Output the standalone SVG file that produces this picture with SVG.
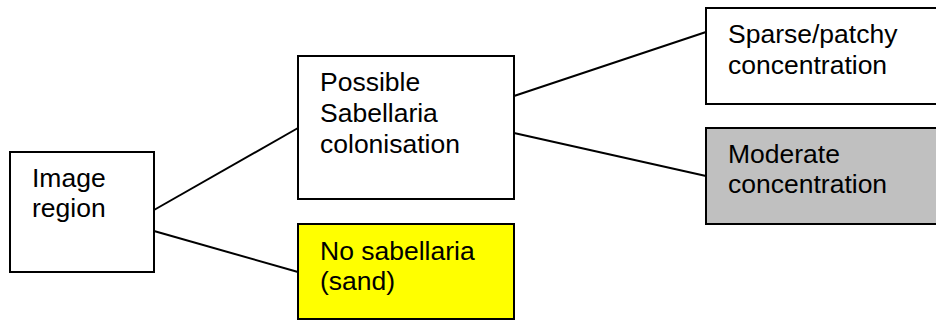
<svg xmlns="http://www.w3.org/2000/svg" width="936" height="320" viewBox="0 0 936 320">
  <style>
    .box { stroke: #000; stroke-width: 2; }
    .plain { fill: #fff; }
    .sand { fill: #ffff00; }
    .moderate { fill: #c0c0c0; }
    .label { font-family: "Liberation Sans", Arial, sans-serif; font-size: 26.5px; fill: #000; }
    .link { stroke: #000; stroke-width: 2; fill: none; }
  </style>
  <rect width="936" height="320" fill="#fff"/>

  <!-- connectors -->
  <g id="connectors">
    <line class="link" x1="154" y1="210" x2="298" y2="128"/>
    <line class="link" x1="154" y1="231" x2="298" y2="272"/>
    <line class="link" x1="514" y1="96" x2="706" y2="32"/>
    <line class="link" x1="514" y1="133" x2="706" y2="176"/>
  </g>

  <g id="image-region">
    <rect class="box plain" x="10" y="152" width="144" height="120"/>
    <text class="label" x="32" y="187">Image</text>
    <text class="label" x="32" y="217">region</text>
  </g>

  <g id="possible-colonisation">
    <rect class="box plain" x="298" y="56" width="216" height="143"/>
    <text class="label" x="320" y="91">Possible</text>
    <text class="label" x="320" y="122">Sabellaria</text>
    <text class="label" x="320" y="153">colonisation</text>
  </g>

  <g id="no-sabellaria">
    <rect class="box sand" x="298" y="224" width="216" height="95"/>
    <text class="label" x="320" y="260">No sabellaria</text>
    <text class="label" x="320" y="290">(sand)</text>
  </g>

  <g id="sparse-patchy">
    <rect class="box plain" x="706" y="8" width="240" height="96"/>
    <text class="label" x="728" y="43">Sparse/patchy</text>
    <text class="label" x="728" y="74">concentration</text>
  </g>

  <g id="moderate">
    <rect class="box moderate" x="706" y="128" width="240" height="96"/>
    <text class="label" x="728" y="163">Moderate</text>
    <text class="label" x="728" y="193">concentration</text>
  </g>
</svg>
